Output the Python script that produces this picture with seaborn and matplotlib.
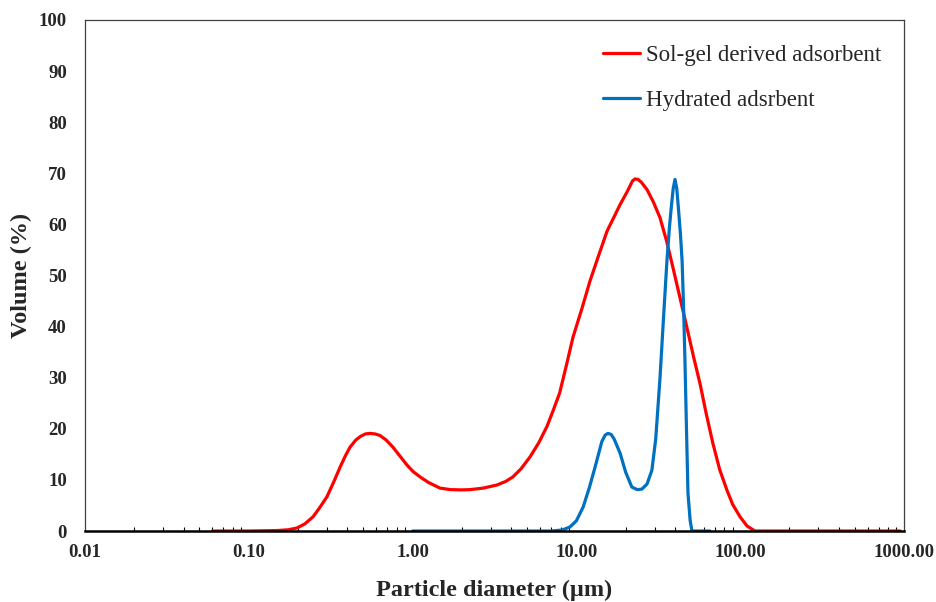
import numpy as np
import pandas as pd
import matplotlib
matplotlib.use("Agg")
import matplotlib.pyplot as plt
import seaborn as sns
from matplotlib.ticker import LogLocator, FixedLocator, FixedFormatter, NullFormatter

# ---- data ----
sol_gel_x = [0.06, 0.10, 0.15, 0.175, 0.197, 0.22, 0.247, 0.27, 0.30, 0.33, 0.361,
             0.39, 0.415, 0.45, 0.48, 0.515, 0.55, 0.59, 0.632, 0.69, 0.759, 0.84,
             0.925, 1.01, 1.11, 1.25, 1.47, 1.7, 2.0, 2.24, 2.7, 3.27, 3.7, 4.1,
             4.6, 5.21, 5.9, 6.62, 7.2, 7.9, 8.7, 9.53, 10.8, 12.1, 13.7, 15.4,
             17.0, 18.5, 20.5, 22.0, 22.8, 23.8, 25.0, 27.0, 29.5, 32.4, 35.5,
             38.9, 43.0, 47.3, 52.0, 56.9, 62.0, 68.2, 75.0, 83.0, 90.0, 99.7,
             110.0, 123.0, 950.0]
sol_gel_y = [0.0, 0.0, 0.1, 0.25, 0.6, 1.4, 2.8, 4.5, 6.7, 9.6, 12.5,
             14.8, 16.4, 17.8, 18.5, 19.0, 19.1, 19.0, 18.7, 17.8, 16.4, 14.6,
             12.9, 11.6, 10.6, 9.5, 8.4, 8.1, 8.05, 8.1, 8.4, 9.0, 9.7, 10.6,
             12.2, 14.5, 17.3, 20.5, 23.5, 27.0, 32.5, 37.9, 43.5, 48.9, 54.0, 58.7,
             61.5, 63.9, 66.5, 68.5, 68.9, 68.8, 68.2, 66.8, 64.4, 61.3, 56.8,
             51.5, 45.5, 39.8, 34.0, 28.8, 23.0, 17.1, 12.0, 8.0, 5.2, 2.8,
             1.0, 0.0, 0.0]

hydrated_x = [1.0, 7.0, 8.2, 9.14, 10.0, 11.0, 12.0, 13.0, 14.3, 15.0, 15.6, 16.3,
              17.0, 18.5, 20.0, 21.8, 23.5, 25.1, 27.0, 28.9, 30.5, 32.4, 34.0,
              35.7, 37.0, 38.0, 39.0, 40.0, 41.0, 42.0, 43.2, 44.2, 45.2, 46.0,
              47.0, 48.0, 49.5, 50.8, 65.4]
hydrated_y = [0.0, 0.0, 0.2, 0.8, 2.0, 4.7, 8.5, 12.5, 17.5, 18.8, 19.1, 18.9,
              18.0, 15.2, 11.5, 8.6, 8.1, 8.2, 9.2, 11.9, 18.0, 30.0, 41.5,
              52.8, 59.5, 63.5, 67.0, 68.8, 67.0, 63.0, 58.0, 52.8, 43.0, 33.3,
              20.0, 7.4, 2.0, 0.0, 0.0]

series_names = ["Sol-gel derived adsorbent", "Hydrated adsrbent"]
x_tick_values = [0.01, 0.1, 1, 10, 100, 1000]
x_tick_labels = ["0.01", "0.10", "1.00", "10.00", "100.00", "1000.00"]
y_tick_values = list(range(0, 101, 10))

df = pd.concat([
    pd.DataFrame({"x": sol_gel_x, "y": sol_gel_y, "series": series_names[0]}),
    pd.DataFrame({"x": hydrated_x, "y": hydrated_y, "series": series_names[1]}),
], ignore_index=True)

sns.set_style("white")
plt.rcParams["font.family"] = ["Liberation Serif", "DejaVu Serif"]

fig = plt.figure(figsize=(9.36, 6.02), dpi=100)
ax = fig.add_axes([0.0908, 0.1179, 0.8750, 0.8489])

sns.lineplot(data=df, x="x", y="y", hue="series", sort=False,
             palette={series_names[0]: "#FF0000", series_names[1]: "#0070C0"},
             linewidth=2.3, ax=ax, estimator=None)
for line in ax.get_lines():
    line.set_solid_joinstyle("round")
    line.set_solid_capstyle("round")

ax.set_xscale("log")
ax.set_xlim(0.01, 1000)
ax.set_ylim(0, 100)

ax.xaxis.set_major_locator(FixedLocator(x_tick_values))
ax.xaxis.set_major_formatter(FixedFormatter(x_tick_labels))
ax.xaxis.set_minor_locator(LogLocator(base=10, subs=np.arange(2, 10)))
ax.xaxis.set_minor_formatter(NullFormatter())
ax.set_yticks(y_tick_values)

ax.tick_params(axis="x", which="major", direction="in", length=4, width=1,
               color="black", pad=9, labelsize=13.5)
ax.tick_params(axis="x", which="minor", direction="in", length=3, width=0.8,
               color="black", bottom=True)
ax.tick_params(axis="y", which="both", length=0, pad=13, labelsize=13.5)
for lab in ax.get_xticklabels() + ax.get_yticklabels():
    lab.set_fontweight("bold")

for side in ["top", "left", "right"]:
    ax.spines[side].set_visible(True)
    ax.spines[side].set_linewidth(0.9)
    ax.spines[side].set_color("#404040")
ax.spines["bottom"].set_linewidth(1.8)
ax.spines["bottom"].set_color("black")

ax.set_xlabel("Particle diameter (µm)", fontsize=17.5, fontweight="bold", labelpad=14)
ax.set_ylabel("Volume (%)", fontsize=17.5, fontweight="bold", labelpad=5)

ax.legend(title=None, frameon=False, loc="upper right", bbox_to_anchor=(0.998, 0.992),
          fontsize=16.5, handlelength=1.6, handletextpad=0.3, labelspacing=1.05)

fig.savefig("out.png", dpi=100)
